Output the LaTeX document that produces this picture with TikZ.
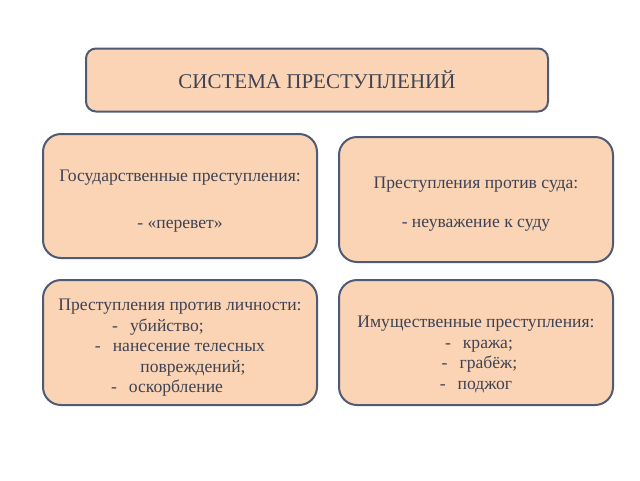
\documentclass[tikz,border=0pt]{standalone}
\usepackage{fontspec}
\setmainfont{Liberation Serif}
\definecolor{peach}{HTML}{FAD4B5}
\definecolor{slate}{HTML}{4F5A74}
\definecolor{ink}{HTML}{3E4252}
\newcommand{\topgap}[1]{\rule{0pt}{#1}}

\begin{document}
\begin{tikzpicture}[x=1pt,y=-1pt,
    block/.style={draw=slate,fill=peach,line width=2pt,rounded corners=18pt,
        text=ink,align=center,inner sep=0pt,
        font=\fontsize{17.6}{20.5}\selectfont},
    title/.style={block,rounded corners=10pt,font=\fontsize{21}{25}\selectfont}]

\useasboundingbox (0,0) rectangle (640,480);

% title
\node[title,minimum width=462pt,minimum height=63pt] (sys) at (317,80)
    {СИСТЕМА ПРЕСТУПЛЕНИЙ};

% upper row
\node[block,minimum width=274pt,minimum height=124pt] (state) at (180,196)
    {\topgap{22pt}Государственные преступления:\\[27pt] - «перевет»};
\node[block,minimum width=274pt,minimum height=125pt] (court) at (476,199.5)
    {\topgap{21pt}Преступления против суда:\\[19pt] - неуважение к суду};

% lower row
\node[block,minimum width=274pt,minimum height=125pt] (person) at (180,342.5)
    {\topgap{22pt}Преступления против личности:\\
     -\hspace{12pt}убийство;\rule{44pt}{0pt}\\
     -\hspace{12pt}нанесение телесных\\
     \hspace*{26pt}повреждений;\\
     -\hspace{12pt}оскорбление\rule{26pt}{0pt}};
\node[block,minimum width=274pt,minimum height=125pt] (property) at (476,342.5)
    {\\[12pt]\topgap{22pt}Имущественные преступления:\\
     \hspace*{6pt}-\hspace{12pt}кража;\\
     \hspace*{7pt}-\hspace{12pt}грабёж;\\
     -\hspace{12pt}поджог};

\end{tikzpicture}
\end{document}
